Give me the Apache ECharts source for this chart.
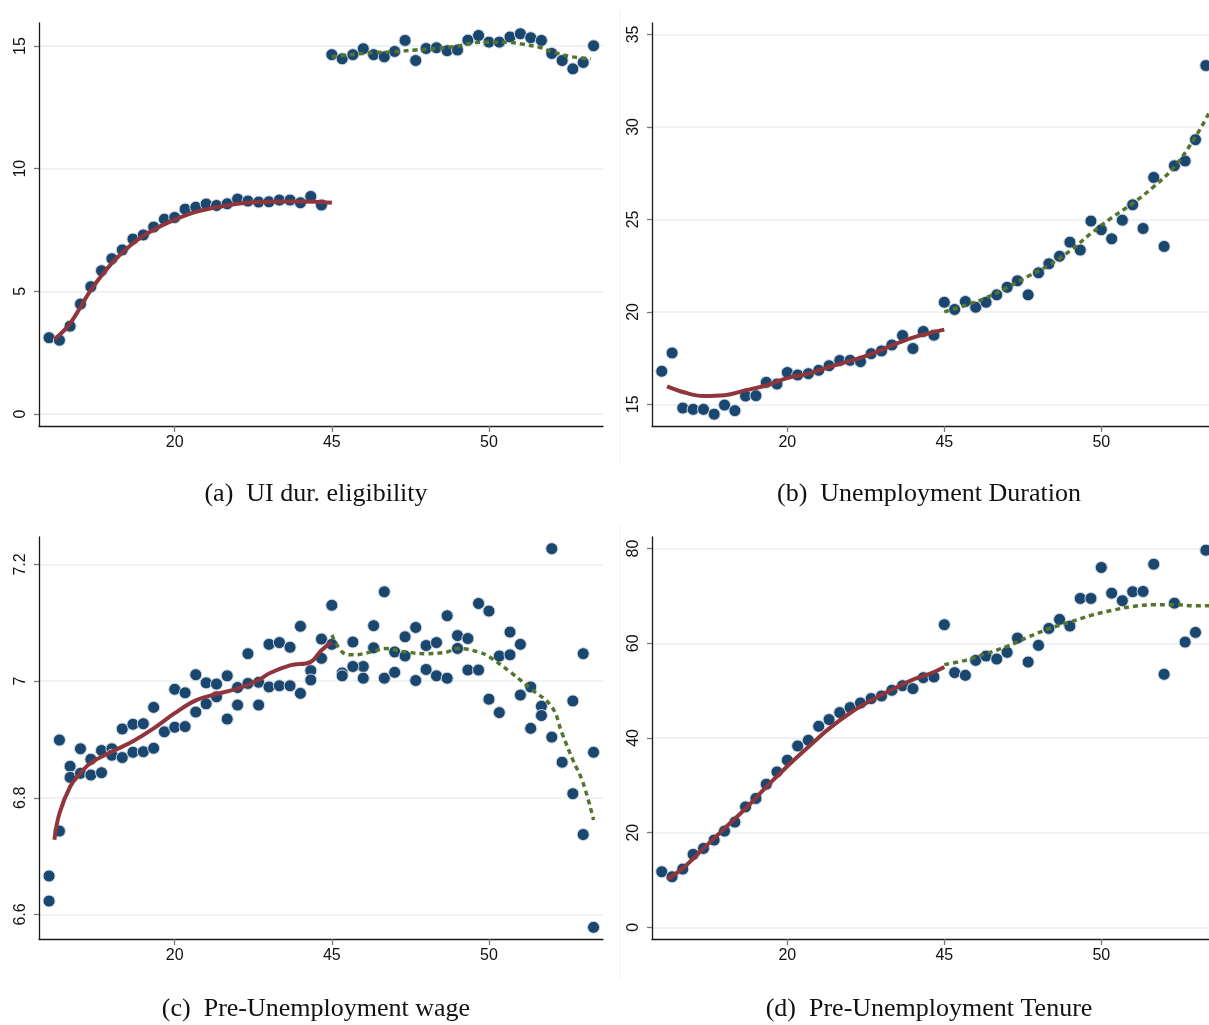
<!DOCTYPE html>
<html><head><meta charset="utf-8">
<script src="https://cdn.jsdelivr.net/npm/echarts@6/dist/echarts.min.js"></script>
<style>html,body{margin:0;padding:0;background:#fff}#c{width:1209px;height:1025px}</style>
</head><body><div id="c"></div>
<script>
// ---- shared bins (age bins) and x tick labels ----
const binsLeft = [36,36.33,36.67,37,37.33,37.67,38,38.33,38.67,39,39.33,39.67,40,40.33,40.67,41,41.33,41.67,42,42.33,42.67,43,43.33,43.67,44,44.33,44.67];
const binsRight = [45,45.33,45.67,46,46.33,46.67,47,47.33,47.67,48,48.33,48.67,49,49.33,49.67,50,50.33,50.67,51,51.33,51.67,52,52.33,52.67,53,53.33];
const xTickValues = [40,45,50];
const xTickLabels = ['20','45','50'];

// ---- panel (a) UI dur. eligibility ----
const aLeft = [3.11,3.01,3.58,4.48,5.19,5.84,6.33,6.69,7.13,7.30,7.62,7.94,8.01,8.35,8.43,8.56,8.50,8.57,8.76,8.68,8.64,8.65,8.72,8.72,8.61,8.87,8.52];
const aRight = [14.65,14.48,14.65,14.89,14.65,14.56,14.78,15.23,14.41,14.90,14.93,14.81,14.84,15.24,15.43,15.16,15.16,15.37,15.50,15.34,15.23,14.70,14.41,14.07,14.33,15.01];
const aFitLX = [36.17,36.67,37.33,38,38.67,39.33,40,40.67,41.33,42,42.67,43.33,44,45];
const aFitLY = [3.04,3.69,5.05,6.15,6.96,7.51,7.92,8.24,8.43,8.57,8.64,8.66,8.66,8.61];
const aFitRX = [45,45.67,46.33,47,47.67,48.33,49,49.67,50.33,50.67,51,51.67,52,52.67,53.24];
const aFitRY = [14.56,14.66,14.73,14.77,14.84,14.90,15.0,15.15,15.16,15.15,15.09,14.93,14.77,14.56,14.48];
const aYTicks = [0,5,10,15];

// ---- panel (b) Unemployment Duration ----
const bLeft = [16.79,17.78,14.80,14.73,14.73,14.47,14.96,14.66,15.45,15.47,16.19,16.10,16.72,16.59,16.66,16.84,17.09,17.37,17.38,17.31,17.74,17.89,18.21,18.72,18.02,18.94,18.74];
const bRight = [20.52,20.13,20.56,20.25,20.52,20.92,21.33,21.68,20.92,22.11,22.60,23.01,23.77,23.34,24.91,24.44,23.95,24.96,25.79,24.51,27.27,23.54,27.90,28.16,29.31,33.32];
const bFitLX = [36.17,36.67,37.33,38,38.67,39.33,40,40.67,41.33,42,42.67,43.33,44,44.67,45];
const bFitLY = [15.97,15.67,15.45,15.49,15.76,16.03,16.42,16.66,17.02,17.35,17.71,18.19,18.61,18.91,19.04];
const bFitRX = [45,45.67,46.33,47,47.67,48.33,49,49.67,50.33,51,51.67,52.33,53,53.43];
const bFitRY = [20.0,20.36,20.76,21.32,21.93,22.53,23.30,24.24,25.09,25.87,26.77,27.85,29.47,30.75];
const bYTicks = [15,20,25,30,35];

// ---- panel (c) Pre-Unemployment wage (two markers per bin) ----
const cLeftHi = [6.666,6.899,6.854,6.884,6.866,6.881,6.884,6.918,6.926,6.927,6.955,6.913,6.986,6.980,7.011,6.997,6.995,7.009,6.989,7.047,6.998,7.063,7.066,7.058,7.094,7.018,7.072];
const cLeftLo = [6.623,6.743,6.835,6.842,6.839,6.843,6.873,6.869,6.878,6.879,6.885,null,6.921,6.922,6.947,6.961,6.973,6.935,6.959,6.996,6.959,6.990,6.992,6.992,6.979,7.002,7.039];
const cRightHi = [7.130,7.014,7.067,7.025,7.095,7.153,7.050,7.076,7.092,7.061,7.066,7.112,7.078,7.073,7.133,7.120,7.043,7.084,7.063,6.990,6.957,7.227,6.861,6.966,7.047,6.878];
const cRightLo = [7.063,7.009,7.025,7.005,7.057,7.005,7.015,7.043,7.001,7.020,7.009,7.005,7.056,7.019,7.019,6.969,6.946,7.045,6.976,6.919,6.941,6.904,null,6.807,6.737,6.578];
const cFitLX = [36.17,36.33,36.67,37,37.33,38,38.67,39.33,40,40.67,41.33,42,42.67,43,43.67,44.33,44.67,45];
const cFitLY = [6.728,6.773,6.819,6.842,6.860,6.879,6.897,6.919,6.945,6.967,6.978,6.987,7.002,7.013,7.027,7.033,7.053,7.067];
const cFitRX = [45,45.33,45.67,46.33,46.67,47.33,48,48.67,49,49.67,50,50.67,51.33,52,52.33,52.67,53,53.33];
const cFitRY = [7.079,7.050,7.045,7.051,7.056,7.050,7.047,7.050,7.056,7.050,7.042,7.016,6.987,6.956,6.910,6.865,6.825,6.762];
const cYTicks = [6.6,6.8,7,7.2];

// ---- panel (d) Pre-Unemployment Tenure ----
const dLeft = [11.73,10.68,12.30,15.40,16.67,18.42,20.32,22.22,25.44,27.22,30.23,32.83,35.30,38.31,39.51,42.47,43.88,45.36,46.41,47.38,48.31,48.86,50.06,51.05,50.42,52.74,52.87];
const dRight = [63.92,53.80,53.23,56.39,57.30,56.67,58.08,61.10,56.03,59.56,63.14,65.04,63.63,69.47,69.47,76.01,70.59,68.99,70.89,70.95,76.71,53.44,68.48,60.25,62.30,79.66];
const dFitLX = [36.17,36.67,37.33,38,38.67,39.33,40,40.67,41.33,42,42.67,43.33,44,44.67,45];
const dFitLY = [10.13,12.45,16.67,20.89,25.1,29.66,34.03,38.1,41.98,45.27,47.95,50.2,52.32,53.93,54.98];
const dFitRX = [45,45.67,46.33,47,47.67,48.33,49,49.67,50.33,51,51.67,52.33,53,53.43];
const dFitRY = [55.49,56.39,57.8,59.35,61.31,63.08,64.47,65.89,66.94,67.78,68.14,68.14,67.93,67.93];
const dYTicks = [0,20,40,60,80];

const titles = ['(a)  UI dur. eligibility','(b)  Unemployment Duration','(c)  Pre-Unemployment wage','(d)  Pre-Unemployment Tenure'];

// ---- styling / layout ----
const BLUE = '#1a476f', RED = '#90353b', GREEN = '#55752f';
const grids = [
  {left:39, top:23, width:564, height:403},
  {left:652, top:23, width:557, height:403},
  {left:39, top:537, width:564, height:402},
  {left:652, top:537, width:557, height:402}
];
const yRanges = [[-0.49,15.94],[13.83,35.62],[6.558,7.247],[-2.47,82.45]];
const yTicks = [aYTicks,bYTicks,cYTicks,dYTicks];
const xRanges = [[35.68,53.63],[35.69,53.43],[35.68,53.63],[35.69,53.43]];

const pair = (xs, ys) => xs.map((x,i)=>[x, ys[i]]).filter(p=>p[1]!==null && p[1]!==undefined);

const xAxes = grids.map((g,i)=>({
  type:'value', gridIndex:i, min:xRanges[i][0], max:xRanges[i][1],
  axisLine:{show:true, onZero:false, lineStyle:{color:'#1a1a1a', width:1.3}},
  axisTick:{show:true, customValues:xTickValues, length:6, lineStyle:{color:'#777', width:1.3}},
  axisLabel:{show:true, customValues:xTickValues, margin:9, color:'#111', fontSize:16, fontFamily:'Liberation Sans',
    formatter:(v)=>{const k = xTickValues.indexOf(v); return k>=0 ? xTickLabels[k] : '';}},
  splitLine:{show:false}
}));
const yAxes = grids.map((g,i)=>({
  type:'value', gridIndex:i, min:yRanges[i][0], max:yRanges[i][1],
  axisLine:{show:true, onZero:false, lineStyle:{color:'#1a1a1a', width:1.3}},
  axisTick:{show:true, customValues:yTicks[i], length:5, lineStyle:{color:'#777', width:1.3}},
  axisLabel:{show:true, customValues:yTicks[i], rotate:90, margin:10, color:'#111', fontSize:16, fontFamily:'Liberation Sans',
    formatter:(v)=>String(v)},
  splitLine:{show:true, lineStyle:{color:'#e8eff2', width:1.5}}
}));

const scatterStyle = {color:BLUE, borderColor:'#d3d9e0', borderWidth:1, opacity:1};
function scatter(i, data){
  return {type:'scatter', xAxisIndex:i, yAxisIndex:i, data, symbol:'circle', symbolSize:12, itemStyle:scatterStyle, z:2, silent:true};
}
function line(i, data, color, dashed){
  return {type:'line', xAxisIndex:i, yAxisIndex:i, data, showSymbol:false, smooth:0.4, z:3, silent:true,
    lineStyle:{color, width:dashed?3.5:4, type: dashed?[5,4]:'solid'}};
}

const series = [
  scatter(0, pair(binsLeft,aLeft)), scatter(0, pair(binsRight,aRight)),
  line(0, pair(aFitLX,aFitLY), RED, false), line(0, pair(aFitRX,aFitRY), GREEN, true),
  scatter(1, pair(binsLeft,bLeft)), scatter(1, pair(binsRight,bRight)),
  line(1, pair(bFitLX,bFitLY), RED, false), line(1, pair(bFitRX,bFitRY), GREEN, true),
  scatter(2, pair(binsLeft,cLeftHi)), scatter(2, pair(binsLeft,cLeftLo)),
  scatter(2, pair(binsRight,cRightHi)), scatter(2, pair(binsRight,cRightLo)),
  line(2, pair(cFitLX,cFitLY), RED, false), line(2, pair(cFitRX,cFitRY), GREEN, true),
  scatter(3, pair(binsLeft,dLeft)), scatter(3, pair(binsRight,dRight)),
  line(3, pair(dFitLX,dFitLY), RED, false), line(3, pair(dFitRX,dFitRY), GREEN, true)
];

const titlePos = [[316,481],[929,481],[316,996],[929,996]];
const chart = echarts.init(document.getElementById('c'), null, {renderer:'canvas'});
chart.setOption({
  backgroundColor:'#fff',
  animation:false,
  grid: grids.map(g=>Object.assign({containLabel:false}, g)),
  xAxis: xAxes, yAxis: yAxes,
  series,
  graphic: [
    {type:'line', shape:{x1:620,y1:10,x2:620,y2:465}, style:{stroke:'#f0f0f0', lineWidth:1}, silent:true},
    {type:'line', shape:{x1:620,y1:525,x2:620,y2:980}, style:{stroke:'#f0f0f0', lineWidth:1}, silent:true}
  ].concat(titles.map((t,i)=>({
    type:'text', x:titlePos[i][0], y:titlePos[i][1], silent:true,
    style:{text:t, fill:'#111', font:'26px "Liberation Serif"', align:'center', verticalAlign:'top'}
  })))
});
</script>
</body></html>
